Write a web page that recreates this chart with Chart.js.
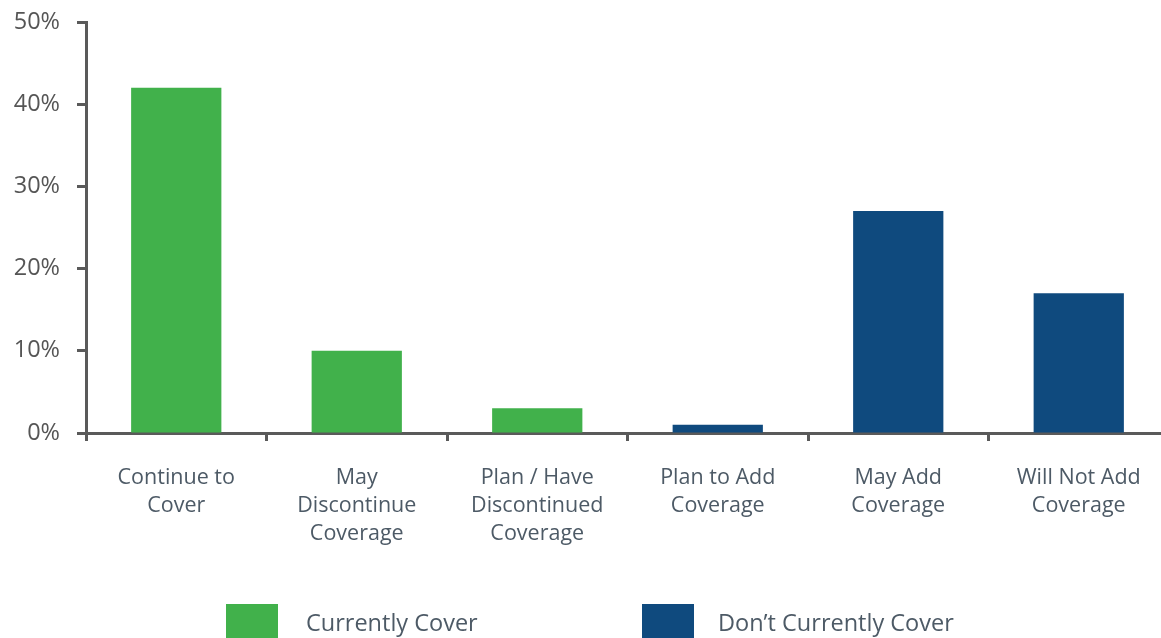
<!DOCTYPE html>
<html>
<head>
<meta charset="utf-8">
<script src="https://cdn.jsdelivr.net/npm/chart.js@4.4.1/dist/chart.umd.min.js"></script>
<style>
  html, body { margin: 0; padding: 0; background: #ffffff; overflow: hidden; }
  #wrap { width: 1161px; height: 638px; overflow: hidden; position: relative; }
  canvas { display: block; }
</style>
</head>
<body>
<div id="wrap"><canvas id="c" width="1175" height="638"></canvas></div>
<script>
const categories = [
  ["Continue to", "Cover"],
  ["May", "Discontinue", "Coverage"],
  ["Plan / Have", "Discontinued", "Coverage"],
  ["Plan to Add", "Coverage"],
  ["May Add", "Coverage"],
  ["Will Not Add", "Coverage"]
];
const currentlyCover = [42, 10, 3, null, null, null];
const dontCurrentlyCover = [null, null, null, 1, 27, 17];
const seriesNames = ["Currently Cover", "Don\u2019t Currently Cover"];
const seriesColors = ["#41B14B", "#0F4A7E"];
const yTicks = [0, 10, 20, 30, 40, 50];

const FONT = "'Open Sans', Lato, sans-serif";
const AXIS = "#5a5a5a";
const LABEL = "#4d5a66";

const legendPlugin = {
  id: "customLegend",
  afterDraw(chart) {
    const ctx = chart.ctx;
    const items = [
      { x: 226, textX: 306 },
      { x: 642, textX: 718 }
    ];
    ctx.save();
    ctx.font = "23.5px " + FONT;
    ctx.textBaseline = "middle";
    ctx.textAlign = "left";
    items.forEach((it, i) => {
      ctx.fillStyle = seriesColors[i];
      ctx.fillRect(it.x, 604, 52, 40);
      ctx.fillStyle = LABEL;
      ctx.fillText(seriesNames[i], it.textX, 624);
    });
    ctx.restore();
  }
};

new Chart(document.getElementById("c"), {
  type: "bar",
  data: {
    labels: categories,
    datasets: [
      { label: seriesNames[0], data: currentlyCover, backgroundColor: seriesColors[0], borderWidth: 0 },
      { label: seriesNames[1], data: dontCurrentlyCover, backgroundColor: seriesColors[1], borderWidth: 0 }
    ]
  },
  options: {
    responsive: false,
    animation: false,
    layout: { padding: { top: 22, right: 6, left: 0, bottom: 0 } },
    datasets: { bar: { grouped: false, categoryPercentage: 1.0, barPercentage: 0.5 } },
    plugins: {
      legend: { display: false },
      tooltip: { enabled: false }
    },
    scales: {
      x: {
        offset: true,
        grid: {
          display: true,
          offset: true,
          drawOnChartArea: false,
          drawTicks: true,
          tickLength: 8,
          tickWidth: 3,
          tickColor: AXIS
        },
        border: { display: true, color: AXIS, width: 3 },
        ticks: {
          color: LABEL,
          font: { family: FONT, size: 21.5, lineHeight: 1.3 },
          padding: 23,
          maxRotation: 0,
          autoSkip: false
        },
        afterFit(s) { s.height = 205; }
      },
      y: {
        min: 0,
        max: 50,
        afterBuildTicks(s) { s.ticks = yTicks.map(v => ({ value: v })); },
        grid: {
          display: true,
          drawOnChartArea: false,
          drawTicks: true,
          tickLength: 9,
          tickWidth: 3,
          tickColor: AXIS
        },
        border: { display: true, color: AXIS, width: 3 },
        ticks: {
          color: "#555555",
          font: { family: FONT, size: 23.5 },
          padding: 17,
          callback: v => v + "%"
        },
        afterFit(s) { s.width = 86; s.paddingTop = 0; s.paddingBottom = 0; }
      }
    }
  },
  plugins: [legendPlugin]
});
</script>
</body>
</html>
